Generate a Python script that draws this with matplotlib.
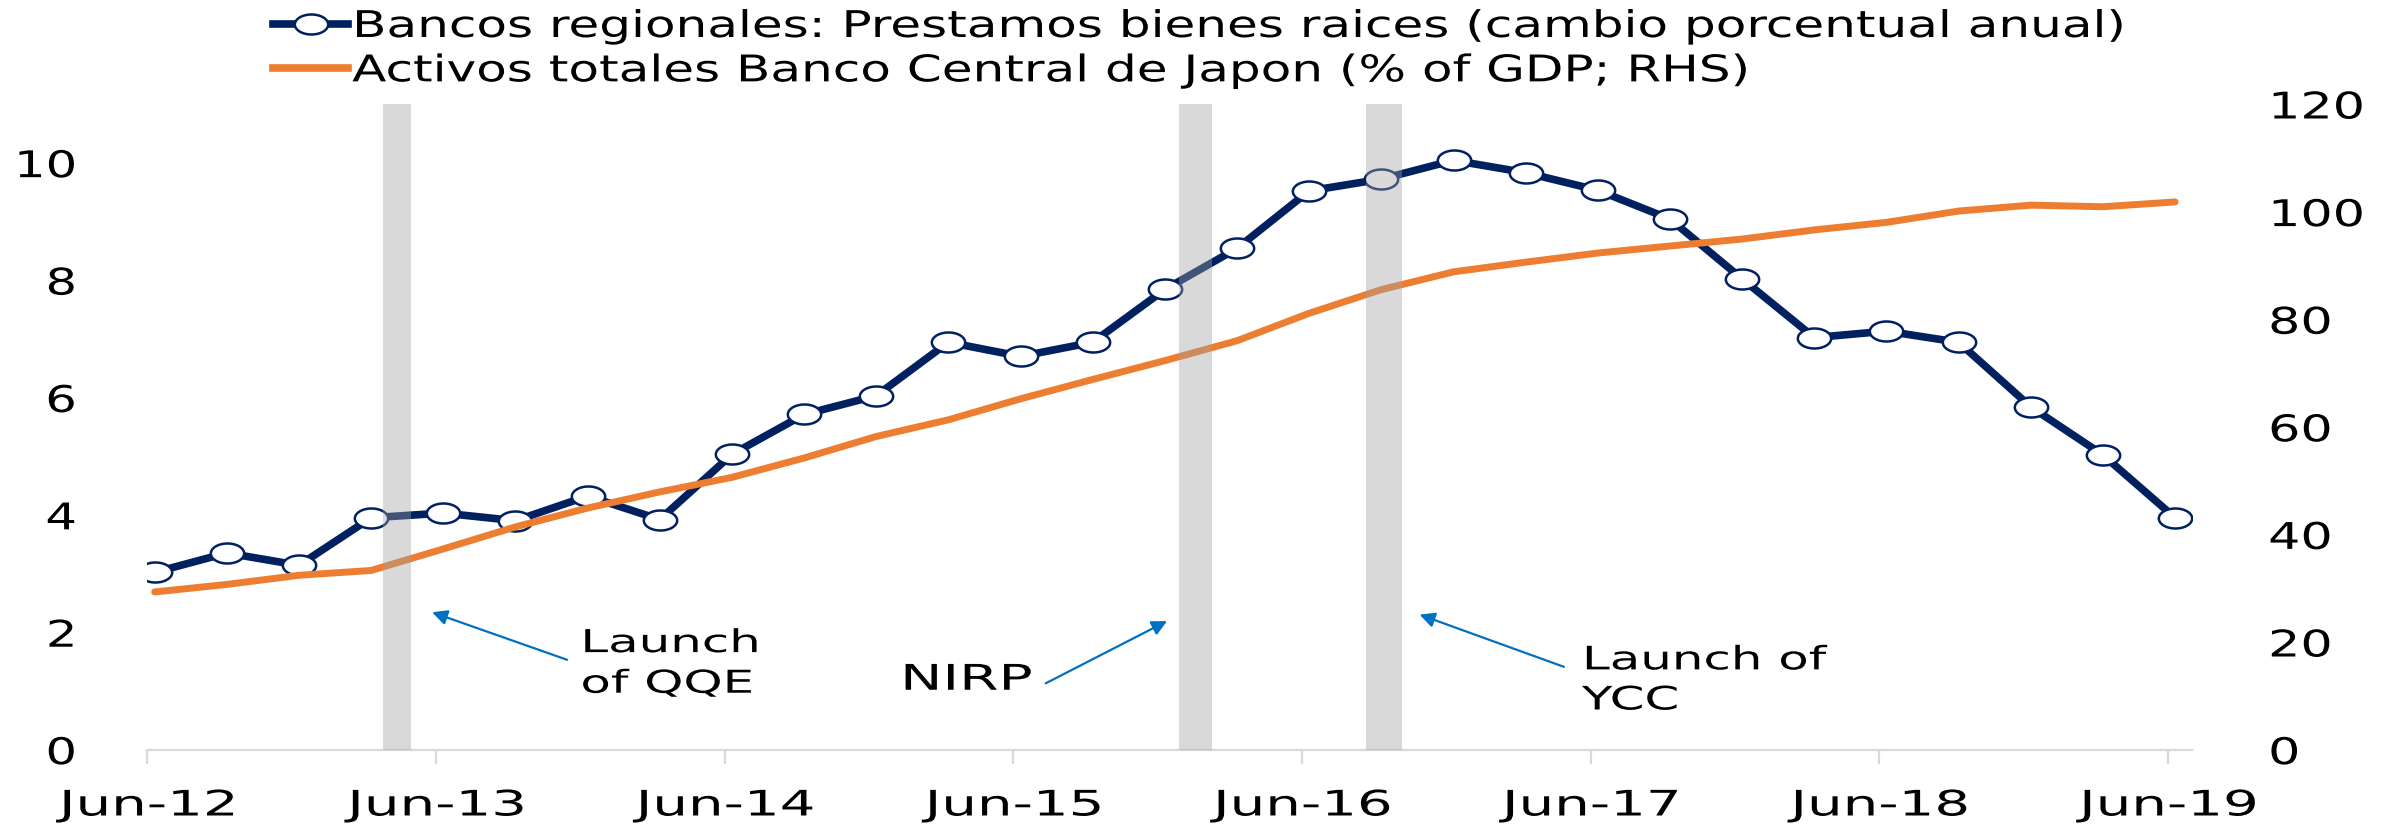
import numpy as np
import matplotlib
matplotlib.use("Agg")
import matplotlib.pyplot as plt
from matplotlib.path import Path
from matplotlib.lines import Line2D
from matplotlib.patheffects import AbstractPathEffect
from matplotlib.transforms import Affine2D

# ---------------- data ----------------
quarters = ["Jun-12", "Sep-12", "Dec-12", "Mar-13", "Jun-13", "Sep-13", "Dec-13", "Mar-14",
            "Jun-14", "Sep-14", "Dec-14", "Mar-15", "Jun-15", "Sep-15", "Dec-15", "Mar-16",
            "Jun-16", "Sep-16", "Dec-16", "Mar-17", "Jun-17", "Sep-17", "Dec-17", "Mar-18",
            "Jun-18", "Sep-18", "Dec-18", "Mar-19", "Jun-19"]
regional_loans = [3.02, 3.35, 3.14, 3.95, 4.03, 3.90, 4.32, 3.92,
                  5.03, 5.71, 6.03, 6.94, 6.70, 6.94, 7.84, 8.54,
                  9.52, 9.72, 10.04, 9.83, 9.53, 9.04, 8.02, 7.02,
                  7.13, 6.94, 5.84, 5.02, 3.95]
boj_assets = [29.3, 30.7, 32.4, 33.3, 37.3, 41.4, 44.9, 47.9,
              50.6, 54.2, 58.2, 61.3, 65.2, 68.8, 72.3, 76.0,
              81.1, 85.5, 88.8, 90.6, 92.3, 93.6, 94.9, 96.6,
              98.0, 100.1, 101.2, 100.9, 101.8]
year_ticks = ["Jun-12", "Jun-13", "Jun-14", "Jun-15", "Jun-16", "Jun-17", "Jun-18", "Jun-19"]
left_ticks = [0, 2, 4, 6, 8, 10]
right_ticks = [0, 20, 40, 60, 80, 100, 120]
# policy events: shaded band start / end (in quarter units from Jun-12)
event_start = [3.16, 14.20, 16.79]
event_end = [3.55, 14.65, 17.29]

label_loans = "Bancos regionales: Prestamos bienes raices (cambio porcentual anual)"
label_boj = "Activos totales Banco Central de Japon (% of GDP; RHS)"

NAVY = "#002060"
ORANGE = "#ED7D31"
ARROW = "#0070C0"
GRID = "#D9D9D9"

plt.rcParams["font.family"] = ["DejaVu Sans"]


class HStretch(AbstractPathEffect):
    """Render text stretched horizontally (the reference uses a wide face)."""

    def __init__(self, sx, anchor="left"):
        super().__init__()
        self.sx = sx
        self.anchor = anchor

    def draw_path(self, renderer, gc, tpath, affine, rgbFace=None):
        ext = tpath.get_extents(affine)
        if self.anchor == "center":
            x0 = 0.5 * (ext.x0 + ext.x1)
        elif self.anchor == "right":
            x0 = ext.x1
        else:
            x0 = affine.get_matrix()[0, 2]
        new = affine + Affine2D().translate(-x0, 0).scale(self.sx, 1).translate(x0, 0)
        renderer.draw_path(gc, tpath, new, rgbFace)


W, H = 2392, 825
fig = plt.figure(figsize=(W / 100, H / 100), dpi=100)
ax = fig.add_axes([147 / W, (H - 749.6) / H, (2191.7 - 147) / W, (749.6 - 104) / H])
ax2 = ax.twinx()

x = np.arange(len(quarters))
pos = {q: i for i, q in enumerate(quarters)}
tick_shift = -0.1

# ellipse marker (wide)
t = np.linspace(0, 2 * np.pi, 80)
ell = Path(np.column_stack([np.cos(t), 0.6 * np.sin(t)]), closed=True)

ax.plot(x, regional_loans, color=NAVY, lw=5.5, marker=ell, ms=24, mfc="white",
        mec=NAVY, mew=1.8, zorder=3, solid_joinstyle="round", solid_capstyle="round")
ax2.plot(x, boj_assets, color=ORANGE, lw=5, zorder=3, solid_capstyle="round")

for s, e in zip(event_start, event_end):
    ax2.axvspan(s, e, color="#A1A1A1", alpha=0.4, lw=0, zorder=5)

ax.set_xlim(-0.106, 28.23)
ax.set_ylim(0, 11)
ax2.set_ylim(0, 120)
ax.set_xticks([pos[q] + tick_shift for q in year_ticks])
ax.set_xticklabels(year_ticks)
ax.set_yticks(left_ticks)
ax.set_yticklabels([str(v) for v in left_ticks])
ax2.set_yticks(right_ticks)
ax2.set_yticklabels([str(v) for v in right_ticks])

for a in (ax, ax2):
    for sp in a.spines.values():
        sp.set_visible(False)
ax.spines["bottom"].set_visible(True)
ax.spines["bottom"].set_color(GRID)
ax.spines["bottom"].set_linewidth(1.6)
ax.spines["bottom"].set_bounds(-0.106, 28.23)

ax.tick_params(axis="x", length=10, width=1.6, color=GRID, pad=18, labelsize=25.3)
ax.tick_params(axis="y", length=0, pad=51, labelsize=26.5)
ax2.tick_params(axis="y", length=0, pad=55, labelsize=26.5)

for lbl in ax.get_xticklabels():
    lbl.set_path_effects([HStretch(1.6, "center")])
for lbl in ax.get_yticklabels():
    lbl.set_path_effects([HStretch(1.35, "right")])
for lbl in ax2.get_yticklabels():
    lbl.set_path_effects([HStretch(1.38, "left")])

# annotations
ann_kw = dict(arrowprops=dict(arrowstyle="-|>,head_length=0.9,head_width=0.45", color=ARROW, lw=1.6,
                              shrinkA=0, shrinkB=0))
ax.annotate("", xy=(3.845, 2.34), xytext=(5.716, 1.53), **ann_kw)
ax.annotate("", xy=(14.03, 2.19), xytext=(12.35, 1.13), **ann_kw)
ax.annotate("", xy=(17.53, 2.30), xytext=(19.53, 1.41), **ann_kw)
ax.text(5.90, 1.46, "Launch\nof QQE", fontsize=22.7, va="center", ha="left", linespacing=1.4,
        path_effects=[HStretch(1.58)])
ax.text(10.33, 1.19, "NIRP", fontsize=25.5, va="center", ha="left",
        path_effects=[HStretch(1.6)])
ax.text(19.78, 1.17, "Launch of\nYCC", fontsize=23.3, va="center", ha="left", linespacing=1.38,
        path_effects=[HStretch(1.54)])

handles = [Line2D([], [], color=NAVY, lw=5.5, marker=ell, ms=24, mfc="white", mec=NAVY, mew=1.8),
           Line2D([], [], color=ORANGE, lw=5.5)]
leg = fig.legend(handles, [label_loans, label_boj], loc="upper left",
                 bbox_to_anchor=(273 / W, 1 - 8 / H), frameon=False, fontsize=26.5,
                 handlelength=2.05, handletextpad=0.1, labelspacing=0.2, borderpad=0,
                 borderaxespad=0)
for txt in leg.get_texts():
    txt.set_path_effects([HStretch(1.36)])

fig.savefig("out.png", dpi=100)
